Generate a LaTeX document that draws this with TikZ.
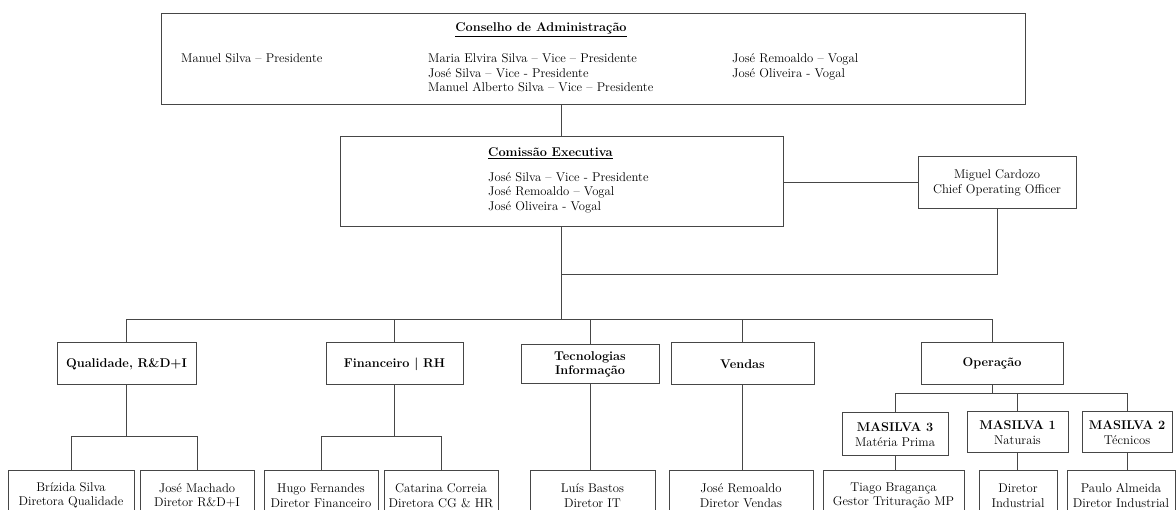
\documentclass[tikz,border=0pt]{standalone}
\usepackage{fontspec}
\usepackage{tikz}
\usetikzlibrary{positioning, calc}
\definecolor{boxline}{RGB}{70, 70, 70}
\newcommand{\orgfont}{\fontsize{12.7}{14.5}\selectfont}

\begin{document}
\begin{tikzpicture}[x=1pt, y=-1pt,
    every node/.style={font=\orgfont, text=black},
    orgbox/.style={draw=boxline, fill=white, line width=1pt, align=center, inner sep=1pt},
    txt/.style={inner sep=0pt, align=left},
    dept/.style={orgbox, font=\orgfont\bfseries, minimum height=42pt},
    unit/.style={orgbox, minimum height=41pt},
    person/.style={orgbox, minimum height=49pt},
    link/.style={draw=boxline, line width=1pt}]
    \useasboundingbox (0,0) rectangle (1176,510);
    \clip (0,0) rectangle (1176,510);
    % Conselho de Administração
    \node (conselho) [orgbox, minimum width=864pt, minimum height=91pt] at (593,59.5) {};
    \node (conselhotit) [txt, anchor=base] at (541,32) {\underline{\textbf{Conselho de Administração}}};
    \node (presid) [txt, anchor=base west] at (181,62.5) {Manuel Silva -- Presidente};
    \node (vices) [txt, anchor=north west] at (428,53.5) {Maria Elvira Silva -- Vice -- Presidente\\José Silva -- Vice - Presidente\\Manuel Alberto Silva -- Vice -- Presidente};
    \node (vogais) [txt, anchor=north west] at (732,53.5) {José Remoaldo -- Vogal\\José Oliveira - Vogal};
    % Comissão Executiva e COO
    \node (comissao) [orgbox, minimum width=443pt, minimum height=90pt] at (561.5,182) {};
    \node (comissaotit) [txt, anchor=base west] at (488,157) {\underline{\textbf{Comissão Executiva}}};
    \node (comissaomemb) [txt, anchor=north west] at (488,172) {José Silva -- Vice - Presidente\\José Remoaldo -- Vogal\\José Oliveira - Vogal};
    \node (coo) [orgbox, minimum width=158pt, minimum height=52pt] at (997,183) {Miguel Cardozo\\Chief Operating Officer};
    % Direções
    \node (qual) [dept, minimum width=139pt] at (126.5,364) {Qualidade, R\&D+I};
    \node (fin) [dept, minimum width=137pt] at (394.5,364) {Financeiro | RH};
    \node (tec) [dept, minimum width=138pt, minimum height=39pt] at (590,364.5) {Tecnologias\\Informação};
    \node (vend) [dept, minimum width=143pt] at (742.5,364) {Vendas};
    \node (oper) [dept, minimum width=142pt] at (992,363.5) {Operação};
    % Unidades da Operação
    \node (m3) [unit, minimum width=106pt, minimum height=43pt] at (895,434.5) {\textbf{MASILVA 3}\\Matéria Prima};
    \node (m1) [unit, minimum width=101pt] at (1017.5,432.5) {\textbf{MASILVA 1}\\Naturais};
    \node (m2) [unit, minimum width=90pt] at (1127,432.5) {\textbf{MASILVA 2}\\Técnicos};
    % Responsáveis
    \node (briz) [person, minimum width=126pt] at (71,495.5) {Brízida Silva\\Diretora Qualidade};
    \node (jmach) [person, minimum width=114pt] at (197,495.5) {José Machado\\Diretor R\&D+I};
    \node (hugo) [person, minimum width=114pt] at (321,495.5) {Hugo Fernandes\\Diretor Financeiro};
    \node (cat) [person, minimum width=114pt] at (441,495.5) {Catarina Correia\\Diretora CG \& HR};
    \node (luis) [person, minimum width=125pt] at (592.5,495.5) {Luís Bastos\\Diretor IT};
    \node (jrem) [person, minimum width=144pt] at (741,495.5) {José Remoaldo\\Diretor Vendas};
    \node (tiago) [person, minimum width=141pt] at (893.5,495.5) {Tiago Bragança\\Gestor Trituração MP};
    \node (dirind) [person, minimum width=78pt] at (1018,495.5) {Diretor\\Industrial};
    \node (paulo) [person, minimum width=108pt] at (1121,495.5) {Paulo Almeida\\Diretor Industrial};
    % Pontos de ramificação
    \coordinate (coojoin) at (561.5,275);
    \coordinate (bus) at (561.5,320);
    \coordinate (lowsplit) at (0,437);
    \coordinate (opsplit) at (0,394);
    % Ligações
    \draw[link] (conselho.south -| comissao.north) -- (comissao.north);
    \draw[link] (comissao.east |- coo.west) -- (coo.west);
    \draw[link] (coo.south) |- (coojoin);
    \foreach \dept in {qual, fin, tec, vend, oper}
        \draw[link] (comissao.south) -- (bus) -| (\dept.north);
    \foreach \parent/\kid in {qual/briz, qual/jmach, fin/hugo, fin/cat}
        \draw[link] (\parent.south) -- (\parent.south |- lowsplit) -| (\kid.north);
    \draw[link] (tec.south) -- (tec.south |- luis.north);
    \draw[link] (vend.south) -- (vend.south |- jrem.north);
    \foreach \kid in {m3, m1, m2}
        \draw[link] (oper.south) -- (oper.south |- opsplit) -| (\kid.north);
    \foreach \unit/\kid in {m3/tiago, m1/dirind, m2/paulo}
        \draw[link] (\unit.south) -- (\unit.south |- \kid.north);
\end{tikzpicture}
\end{document}
